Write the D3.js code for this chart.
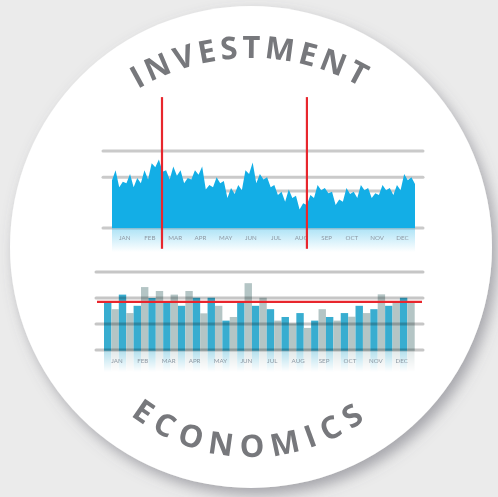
<!DOCTYPE html>
<html>
<head>
<meta charset="utf-8">
<script src="https://cdn.jsdelivr.net/npm/d3@7"></script>
<style>
  html, body { margin: 0; padding: 0; background: #ebebeb; }
  svg { display: block; }
</style>
</head>
<body>
<script>
// ---- data ----
var months = ['JAN', 'FEB', 'MAR', 'APR', 'MAY', 'JUN', 'JUL', 'AUG', 'SEP', 'OCT', 'NOV', 'DEC'];

// top area series, evenly spaced across the year (0..100 scale)
var areaValues = [
  62, 75, 53, 60, 58, 70, 53, 65, 58, 75, 63, 84, 79, 89, 73, 75, 63, 80, 68, 75,
  58, 65, 63, 75, 69, 80, 50, 56, 53, 66, 58, 61, 39, 52, 44, 56, 49, 75, 70, 85,
  58, 70, 63, 66, 53, 56, 43, 47, 34, 50, 39, 42, 24, 32, 30, 43, 39, 56, 49, 52,
  45, 47, 30, 37, 34, 52, 44, 47, 39, 56, 49, 52, 39, 45, 43, 56, 49, 52, 43, 56,
  49, 70, 62, 66, 57
];
var areaGrid = [0, 48, 66, 100];
var areaMarkers = [1.98, 7.72];       // in months from the start of the year

// bar chart, two series interleaved month by month
var blueBars = [1.83, 2.13, 1.70, 2.00, 1.85, 1.70, 2.01, 2.01, 1.13, 1.88, 1.70,
                1.57, 1.27, 1.42, 1.13, 1.27, 1.42, 1.70, 1.57, 1.70, 2.01];
var grayBars = [1.57, 1.42, 2.42, 2.27, 2.13, 2.27, 1.41, 1.70, 1.27, 2.57, 2.01,
                1.13, 1.02, 0.85, 1.57, 1.13, 1.28, 1.42, 2.14, 1.85, 1.83];
var barGrid = [0, 1, 2, 3];
var barTarget = 1.85;

var titleTop = 'INVESTMENT';
var titleBottom = 'ECONOMICS';

// ---- page ----
var W = 498, H = 497;
var svg = d3.select('body').append('svg').attr('width', W).attr('height', H);
var defs = svg.append('defs');

var shadow = defs.append('filter').attr('id', 'shadow')
  .attr('x', '-20%').attr('y', '-20%').attr('width', '140%').attr('height', '140%');
shadow.append('feDropShadow')
  .attr('dx', 5).attr('dy', 7).attr('stdDeviation', 7)
  .attr('flood-color', '#5f5f6a').attr('flood-opacity', 0.5);

var fadeArea = defs.append('linearGradient').attr('id', 'fadeArea')
  .attr('x1', 0).attr('y1', 0).attr('x2', 0).attr('y2', 1);
fadeArea.append('stop').attr('offset', 0).attr('stop-color', '#13aee6').attr('stop-opacity', 0.35);
fadeArea.append('stop').attr('offset', 1).attr('stop-color', '#13aee6').attr('stop-opacity', 0);

var fadeMask = defs.append('linearGradient').attr('id', 'fadeMaskGrad')
  .attr('x1', 0).attr('y1', 0).attr('x2', 0).attr('y2', 1);
fadeMask.append('stop').attr('offset', 0).attr('stop-color', '#fff').attr('stop-opacity', 0.4);
fadeMask.append('stop').attr('offset', 1).attr('stop-color', '#fff').attr('stop-opacity', 0);

svg.append('rect').attr('width', W).attr('height', H).attr('fill', '#ebebeb');
svg.append('circle')
  .attr('cx', 251).attr('cy', 247).attr('r', 241)
  .attr('fill', '#fff')
  .attr('filter', 'url(#shadow)');

// ---- arc titles ----
defs.append('path').attr('id', 'arcTop')
  .attr('d', 'M ' + (251 - 222) + ' 280 A 222 222 0 0 1 ' + (251 + 222) + ' 280');
defs.append('path').attr('id', 'arcBottom')
  .attr('d', 'M ' + (251 - 195) + ' 262 A 195 195 0 0 0 ' + (251 + 195) + ' 262');

function arcText (id, str, spacing) {
  svg.append('text')
    .attr('font-family', '"Open Sans", Lato, sans-serif')
    .attr('font-weight', 700)
    .attr('font-size', 31)
    .attr('letter-spacing', spacing)
    .attr('fill', '#77787c')
    .append('textPath')
    .attr('href', '#' + id)
    .attr('startOffset', '50%')
    .attr('text-anchor', 'middle')
    .text(str);
}
arcText('arcTop', titleTop, 4);
arcText('arcBottom', titleBottom, 8);

// ---- top: area chart ----
var ax0 = 112, ax1 = 415;
var xi = d3.scaleLinear().domain([0, areaValues.length - 1]).range([ax0, ax1]);
var xm = d3.scaleLinear().domain([0, 12]).range([ax0, ax1]);
var ya = d3.scaleLinear().domain([0, 100]).range([228, 151]);
var xMonthTop = d3.scaleBand().domain(months).range([ax0, ax1]);

var topG = svg.append('g');

topG.selectAll('line.grid').data(areaGrid).enter().append('line')
  .attr('class', 'grid')
  .attr('x1', function (d) { return d === 48 ? 205 : 103; })
  .attr('x2', function (d) { return d === 48 ? 410 : 423; })
  .attr('y1', ya).attr('y2', ya)
  .attr('stroke', '#cacaca').attr('stroke-width', 3).attr('stroke-linecap', 'round');

topG.append('rect')
  .attr('x', ax0).attr('y', ya(0))
  .attr('width', ax1 - ax0).attr('height', 24)
  .attr('fill', 'url(#fadeArea)');

topG.append('path')
  .datum(areaValues)
  .attr('fill', '#13aee6')
  .attr('d', d3.area()
    .x(function (d, i) { return xi(i); })
    .y0(ya(0))
    .y1(function (d) { return ya(d); }));

topG.selectAll('text.month').data(months).enter().append('text')
  .attr('class', 'month')
  .attr('x', function (d) { return xMonthTop(d) + xMonthTop.bandwidth() / 2; })
  .attr('y', 239.5)
  .attr('text-anchor', 'middle')
  .attr('font-family', 'Lato, sans-serif')
  .attr('font-size', 6.2)
  .attr('fill', '#8d99a4')
  .text(function (d) { return d; });

topG.selectAll('line.marker').data(areaMarkers).enter().append('line')
  .attr('class', 'marker')
  .attr('x1', xm).attr('x2', xm)
  .attr('y1', ya(170)).attr('y2', ya(-27))
  .attr('stroke', '#e8262d').attr('stroke-width', 2.2);

// ---- bottom: bar chart ----
var bars = [];
blueBars.forEach(function (v, i) {
  bars.push({ v: v, c: '#38add0' });
  bars.push({ v: grayBars[i], c: '#b4c5c5' });
});

var bx0 = 104, bx1 = 414.7;
var xb = d3.scaleBand().domain(d3.range(bars.length)).range([bx0, bx1]);
var yb = d3.scaleLinear().domain([0, 3]).range([350, 272]);
var xMonthBot = d3.scaleBand().domain(months).range([bx0, bx1]);

var botG = svg.append('g');

defs.append('mask').attr('id', 'barMask')
  .append('rect')
  .attr('x', bx0).attr('y', yb(0)).attr('width', bx1 - bx0).attr('height', 22)
  .attr('fill', 'url(#fadeMaskGrad)');

// reflection
botG.append('g').attr('mask', 'url(#barMask)')
  .selectAll('rect').data(bars).enter().append('rect')
  .attr('x', function (d, i) { return xb(i); })
  .attr('y', yb(0))
  .attr('width', xb.bandwidth())
  .attr('height', function (d) { return yb(0) - yb(d.v); })
  .attr('fill', function (d) { return d.c; });

botG.selectAll('rect.bar').data(bars).enter().append('rect')
  .attr('class', 'bar')
  .attr('x', function (d, i) { return xb(i); })
  .attr('y', function (d) { return yb(d.v); })
  .attr('width', xb.bandwidth())
  .attr('height', function (d) { return yb(0) - yb(d.v) + 0.7; })
  .attr('fill', function (d) { return d.c; });

botG.selectAll('line.grid').data(barGrid).enter().append('line')
  .attr('class', 'grid')
  .attr('x1', 96).attr('x2', 423)
  .attr('y1', yb).attr('y2', yb)
  .attr('stroke', '#c6c6c6').attr('stroke-width', 3).attr('stroke-linecap', 'round')
  .style('mix-blend-mode', 'multiply');

botG.selectAll('text.month').data(months).enter().append('text')
  .attr('class', 'month')
  .attr('x', function (d) { return xMonthBot(d) + xMonthBot.bandwidth() / 2; })
  .attr('y', 362.5)
  .attr('text-anchor', 'middle')
  .attr('font-family', 'Lato, sans-serif')
  .attr('font-size', 6.2)
  .attr('fill', '#8d99a4')
  .text(function (d) { return d; });

botG.append('line')
  .attr('x1', 97).attr('x2', 422)
  .attr('y1', yb(barTarget)).attr('y2', yb(barTarget))
  .attr('stroke', '#e8262d').attr('stroke-width', 2.2);
</script>
</body>
</html>
